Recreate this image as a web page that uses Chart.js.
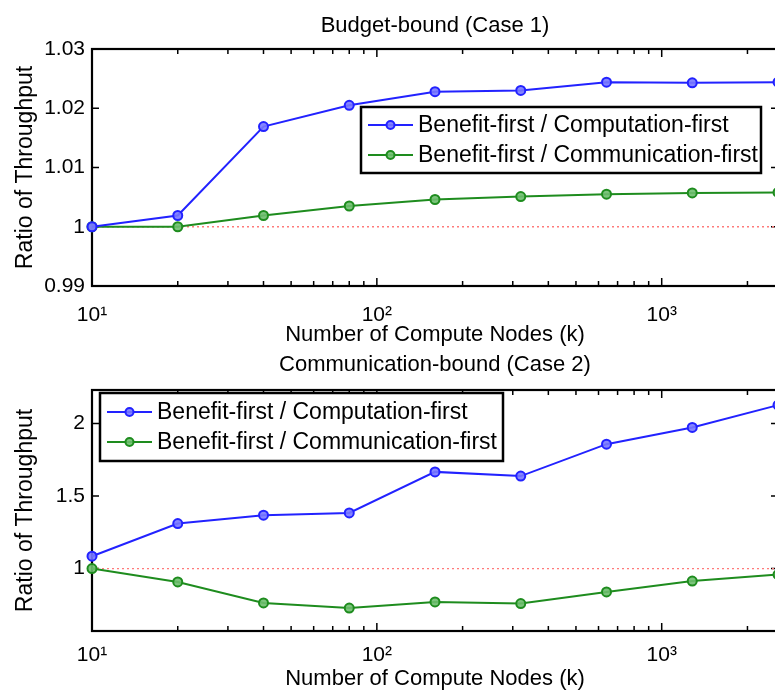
<!DOCTYPE html>
<html lang="en">
<head>
<meta charset="UTF-8">
<title>Ratio of Throughput</title>
<style>
    html, body { margin: 0; padding: 0; background: #fff; overflow: hidden; }
    body { width: 775px; height: 692px; position: relative; }
    canvas { position: absolute; left: 0; }
    #case1 { top: 0; }
    #case2 { top: 340px; }
</style>
</head>
<body>
<canvas id="case1" width="800" height="352"></canvas>
<canvas id="case2" width="800" height="352"></canvas>
<script src="https://cdn.jsdelivr.net/npm/chart.js"></script>
<script>
// data
const nodes = [10, 20, 40, 80, 160, 320, 640, 1280, 2560];
const seriesLabels = ['Benefit-first / Computation-first', 'Benefit-first / Communication-first'];

const budgetVsComputation = [1.0000, 1.0019, 1.0169, 1.0205, 1.0228, 1.0230, 1.0244, 1.0243, 1.0244];
const budgetVsCommunication = [1.0000, 1.0000, 1.0019, 1.0035, 1.0046, 1.0051, 1.0055, 1.0057, 1.0058];

const commVsComputation = [1.085, 1.31, 1.368, 1.383, 1.666, 1.637, 1.857, 1.972, 2.126];
const commVsCommunication = [1.0, 0.908, 0.763, 0.728, 0.770, 0.759, 0.839, 0.914, 0.959];

const xTicks = [10, 100, 1000];
const xTickLabels = ['10\u00b9', '10\u00b2', '10\u00b3'];
const budgetTicks = [0.99, 1, 1.01, 1.02, 1.03];
const budgetTickLabels = ['0.99', '1', '1.01', '1.02', '1.03'];
const commTicks = [1, 1.5, 2];
const commTickLabels = ['1', '1.5', '2'];

Chart.defaults.font.family = '"Liberation Sans", Arial, Helvetica, sans-serif';
Chart.defaults.color = '#000';

const BLUE = '#2222ff';
const GREEN = '#1e8c1e';

// minor ticks of the log axis: 2..9 in each decade
const xMinor = [];
xTicks.forEach(d => { for (let m = 2; m <= 9; m++) if (m * d < 2560) xMinor.push(m * d); });

// matlab style box with inward ticks
const frame = {
    id: 'frame',
    beforeDatasetsDraw(chart) {
        const {ctx, chartArea: a, scales: {x, y}} = chart;
        ctx.save();
        ctx.strokeStyle = '#000';
        ctx.lineWidth = 1.5;
        ctx.beginPath();
        y.ticks.forEach(t => {
            const py = y.getPixelForValue(t.value);
            ctx.moveTo(a.left, py); ctx.lineTo(a.left + 7, py);
            ctx.moveTo(a.right, py); ctx.lineTo(a.right - 7, py);
        });
        x.ticks.forEach(t => {
            const px = x.getPixelForValue(t.value);
            ctx.moveTo(px, a.bottom); ctx.lineTo(px, a.bottom - 8);
            ctx.moveTo(px, a.top); ctx.lineTo(px, a.top + 8);
        });
        xMinor.forEach(v => {
            const px = x.getPixelForValue(v);
            ctx.moveTo(px, a.bottom); ctx.lineTo(px, a.bottom - 5);
            ctx.moveTo(px, a.top); ctx.lineTo(px, a.top + 5);
        });
        ctx.stroke();
        ctx.lineWidth = 2.2;
        ctx.strokeRect(a.left, a.top, a.right - a.left, a.bottom - a.top);
        ctx.restore();
    }
};

const axTitle = {
    id: 'axTitle',
    afterDraw(chart, args, opts) {
        const {ctx, chartArea: a} = chart;
        ctx.save();
        ctx.font = '22px "Liberation Sans", Arial, sans-serif';
        ctx.fillStyle = '#000';
        ctx.textAlign = 'center';
        ctx.textBaseline = 'middle';
        ctx.fillText(opts.text, (a.left + a.right) / 2, a.top - opts.gap);
        ctx.restore();
    }
};

const boxLegend = {
    id: 'boxLegend',
    afterDatasetsDraw(chart, args, opts) {
        const {ctx, chartArea: a} = chart;
        const left = a.left + opts.dx, top = a.top + opts.dy;
        ctx.save();
        ctx.fillStyle = '#fff';
        ctx.fillRect(left, top, opts.w, opts.h);
        ctx.strokeStyle = '#000';
        ctx.lineWidth = 2.5;
        ctx.strokeRect(left, top, opts.w, opts.h);
        ctx.font = '23px "Liberation Sans", Arial, sans-serif';
        ctx.textBaseline = 'middle';
        ctx.textAlign = 'left';
        [0, 1].forEach(i => {
            const ds = chart.data.datasets[i];
            const cy = top + opts.h / 2 + (i === 0 ? -15 : 15);
            ctx.strokeStyle = ds.borderColor;
            ctx.lineWidth = 2;
            ctx.beginPath();
            ctx.moveTo(left + 7, cy); ctx.lineTo(left + 52, cy);
            ctx.stroke();
            ctx.fillStyle = ds.pointBackgroundColor;
            ctx.beginPath();
            ctx.arc(left + 29.5, cy, 4, 0, Math.PI * 2);
            ctx.fill();
            ctx.stroke();
            ctx.fillStyle = '#000';
            ctx.fillText(ds.label, left + 57, cy + 1);
        });
        ctx.restore();
    }
};

function series(label, values, color, fill) {
    return {
        label: label,
        data: nodes.map((n, i) => ({x: n, y: values[i]})),
        borderColor: color,
        backgroundColor: fill,
        pointBackgroundColor: fill,
        pointBorderColor: color,
        borderWidth: 2,
        pointRadius: 4.5,
        pointBorderWidth: 2,
        tension: 0,
        clip: false
    };
}

function makeChart(id, cfg) {
    return new Chart(document.getElementById(id), {
        type: 'line',
        data: {
            datasets: [
                series(seriesLabels[0], cfg.blue, BLUE, 'rgba(120,120,255,0.9)'),
                series(seriesLabels[1], cfg.green, GREEN, 'rgba(110,190,110,0.9)'),
                {
                    label: 'ref',
                    data: [{x: nodes[0], y: 1}, {x: nodes[nodes.length - 1], y: 1}],
                    borderColor: '#ff7a7a',
                    borderWidth: 1.3,
                    borderDash: [2, 3],
                    pointRadius: 0
                }
            ]
        },
        options: {
            responsive: false,
            animation: false,
            devicePixelRatio: 1,
            layout: { padding: { top: cfg.top, right: 22, left: 0, bottom: 0 } },
            plugins: {
                legend: { display: false },
                tooltip: { enabled: false },
                axTitle: { text: cfg.title, gap: cfg.titleGap },
                boxLegend: cfg.legend
            },
            scales: {
                x: {
                    type: 'logarithmic',
                    min: 10,
                    max: 2560,
                    grid: { display: false, drawTicks: false },
                    border: { display: false },
                    afterBuildTicks: s => { s.ticks = xTicks.map(v => ({value: v})); },
                    afterFit: s => { s.height = cfg.xHeight; },
                    ticks: {
                        autoSkip: false,
                        maxRotation: 0,
                        padding: cfg.xTickPad,
                        font: { size: 21 },
                        callback: (v, i) => xTickLabels[i]
                    },
                    title: {
                        display: true,
                        text: 'Number of Compute Nodes (k)',
                        font: { size: 22 },
                        padding: { top: 0, bottom: cfg.xTitlePad }
                    }
                },
                y: {
                    min: cfg.yMin,
                    max: cfg.yMax,
                    grid: { display: false, drawTicks: false },
                    border: { display: false },
                    afterBuildTicks: s => { s.ticks = cfg.yTicks.map(v => ({value: v})); },
                    afterFit: s => { s.width = 92; },
                    ticks: {
                        padding: 7,
                        font: { size: 21 },
                        callback: (v, i) => cfg.yLabels[i]
                    },
                    title: {
                        display: true,
                        text: 'Ratio of Throughput',
                        font: { size: 23 },
                        padding: { top: 12, bottom: 0 }
                    }
                }
            }
        },
        plugins: [frame, axTitle, boxLegend]
    });
}

makeChart('case1', {
    title: 'Budget-bound (Case 1)',
    titleGap: 23,
    top: 49,
    xHeight: 66,
    xTickPad: 17,
    xTitlePad: 4,
    blue: budgetVsComputation,
    green: budgetVsCommunication,
    yMin: 0.99, yMax: 1.03,
    yTicks: budgetTicks, yLabels: budgetTickLabels,
    legend: { dx: 269, dy: 58, w: 400, h: 66 }
});

makeChart('case2', {
    title: 'Communication-bound (Case 2)',
    titleGap: 25,
    top: 50,
    xHeight: 61,
    xTickPad: 12,
    xTitlePad: 0,
    blue: commVsComputation,
    green: commVsCommunication,
    yMin: 0.57, yMax: 2.23,
    yTicks: commTicks, yLabels: commTickLabels,
    legend: { dx: 8, dy: 3, w: 403, h: 68 }
});
</script>
</body>
</html>
